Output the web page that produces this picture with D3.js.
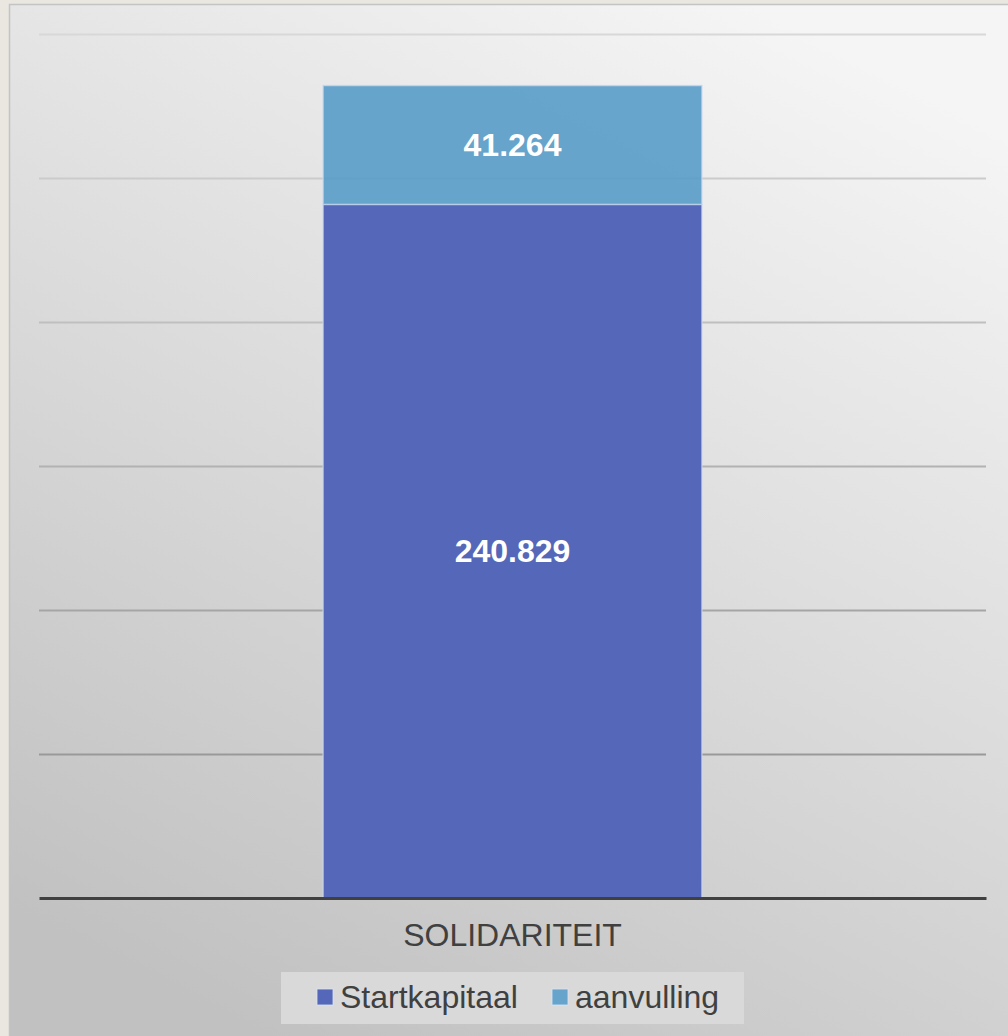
<!DOCTYPE html>
<html>
<head>
<meta charset="utf-8">
<script src="https://cdn.jsdelivr.net/npm/d3@7"></script>
<style>
  html, body { margin: 0; padding: 0; background: #e9e7e0; }
  svg { display: block; }
</style>
</head>
<body>
<svg id="stage" width="1008" height="1036"></svg>
<script>
var categories = ['SOLIDARITEIT'],
    seriesNames = ['Startkapitaal', 'aanvulling'],
    startkapitaal = [240.829],
    aanvulling = [41.264],
    tickValues = [0, 50, 100, 150, 200, 250, 300];

var COLORS = ['#5567b9', '#67a4cc'],
    BAR_FILLS = ['#5567b9', '#589cc8'],
    BAR_OPACITY = [1, 0.9],
    WIDTH = 1008,
    HEIGHT = 1036,
    LEFT = 39,
    RIGHT = 986,
    TOP = 34,
    BOTTOM = 898,
    FONT = '"Liberation Sans", Arial, sans-serif';

var svg = d3.select('#stage'),
    defs = svg.append('defs');

// panel background, light at the top right, darker towards the bottom
var bg = defs.append('linearGradient')
  .attr('id', 'bg')
  .attr('x1', '0.75').attr('y1', '0')
  .attr('x2', '0.25').attr('y2', '1');
bg.append('stop').attr('offset', '0%').attr('stop-color', '#f5f5f5');
bg.append('stop').attr('offset', '100%').attr('stop-color', '#c1c1c1');

svg.append('rect')
  .attr('x', 9).attr('y', 4)
  .attr('width', WIDTH - 9).attr('height', HEIGHT - 4)
  .attr('fill', 'url(#bg)');
svg.append('path')
  .attr('d', 'M9.5,' + HEIGHT + 'V4.5H' + WIDTH)
  .attr('fill', 'none')
  .attr('stroke', '#c4c4c4')
  .attr('stroke-width', 1.5);

var x = d3.scaleBand()
  .domain(categories)
  .range([LEFT, RIGHT])
  .paddingInner(0.6)
  .paddingOuter(0.3);

var y = d3.scaleLinear()
  .domain([0, 300])
  .range([BOTTOM, TOP]);

// gridlines get darker further down, like the reference
var gridColor = d3.scaleLinear()
  .domain([TOP, BOTTOM])
  .range(['#d8d8d8', '#8c8c8c']);

svg.append('g')
  .attr('transform', 'translate(' + LEFT + ',0)')
  .call(d3.axisLeft(y)
    .tickValues(tickValues.slice(1))
    .tickSize(-(RIGHT - LEFT))
    .tickFormat(''))
  .call(function (g) {
    g.select('.domain').remove();
    g.selectAll('.tick line')
      .attr('stroke', function (d) { return gridColor(y(d)); })
      .attr('stroke-width', 2);
  });

var rows = categories.map(function (c, i) {
  return { cat: c, Startkapitaal: startkapitaal[i], aanvulling: aanvulling[i] };
});

var stacked = d3.stack().keys(seriesNames)(rows);

var layers = svg.selectAll('g.layer')
  .data(stacked)
  .enter()
  .append('g')
    .attr('class', 'layer');

layers.selectAll('rect')
  .data(function (d) { return d; })
  .enter()
  .append('rect')
    .attr('x', function (d) { return x(d.data.cat); })
    .attr('width', x.bandwidth())
    .attr('y', function (d) { return y(d[1]); })
    .attr('height', function (d) { return y(d[0]) - y(d[1]); })
    .attr('fill', function () { return BAR_FILLS[this.parentNode.__data__.index]; })
    .attr('fill-opacity', function () { return BAR_OPACITY[this.parentNode.__data__.index]; })
    .attr('stroke', 'rgba(200,215,240,0.7)')
    .attr('stroke-width', 1.5);

layers.selectAll('text')
  .data(function (d) { return d; })
  .enter()
  .append('text')
    .text(function (d) { return d3.format('.3f')(d[1] - d[0]); })
    .attr('x', function (d) { return x(d.data.cat) + x.bandwidth() / 2; })
    .attr('y', function (d) { return (y(d[0]) + y(d[1])) / 2; })
    .attr('dy', '0.35em')
    .attr('text-anchor', 'middle')
    .attr('fill', '#fff')
    .attr('font-family', FONT)
    .attr('font-weight', 'bold')
    .attr('font-size', 32);

// baseline and category axis
svg.append('g')
  .attr('transform', 'translate(0,' + BOTTOM + ')')
  .call(d3.axisBottom(x).tickSize(0).tickPadding(25))
  .call(function (g) {
    g.select('.domain')
      .attr('stroke', '#404040')
      .attr('stroke-width', 3);
    g.selectAll('.tick text')
      .attr('fill', '#404040')
      .attr('font-family', FONT)
      .attr('font-size', 32);
  });

// legend
var legend = svg.append('g');
legend.append('rect')
  .attr('x', 281).attr('y', 972)
  .attr('width', 463).attr('height', 52)
  .attr('fill', '#d9d9d9');

var items = legend.selectAll('g.item')
  .data(seriesNames)
  .enter()
  .append('g')
    .attr('class', 'item')
    .attr('transform', function (d, i) { return 'translate(' + [i === 0 ? 317 : 552, 989] + ')'; });

items.append('rect')
  .attr('width', 16).attr('height', 16)
  .attr('fill', function (d, i) { return COLORS[i]; })
  .attr('stroke', 'rgba(220,230,245,0.8)')
  .attr('stroke-width', 1);

items.append('text')
  .text(function (d) { return d; })
  .attr('x', 23)
  .attr('y', 8)
  .attr('dy', '0.35em')
  .attr('fill', '#404040')
  .attr('font-family', FONT)
  .attr('font-size', 32);
</script>
</body>
</html>
